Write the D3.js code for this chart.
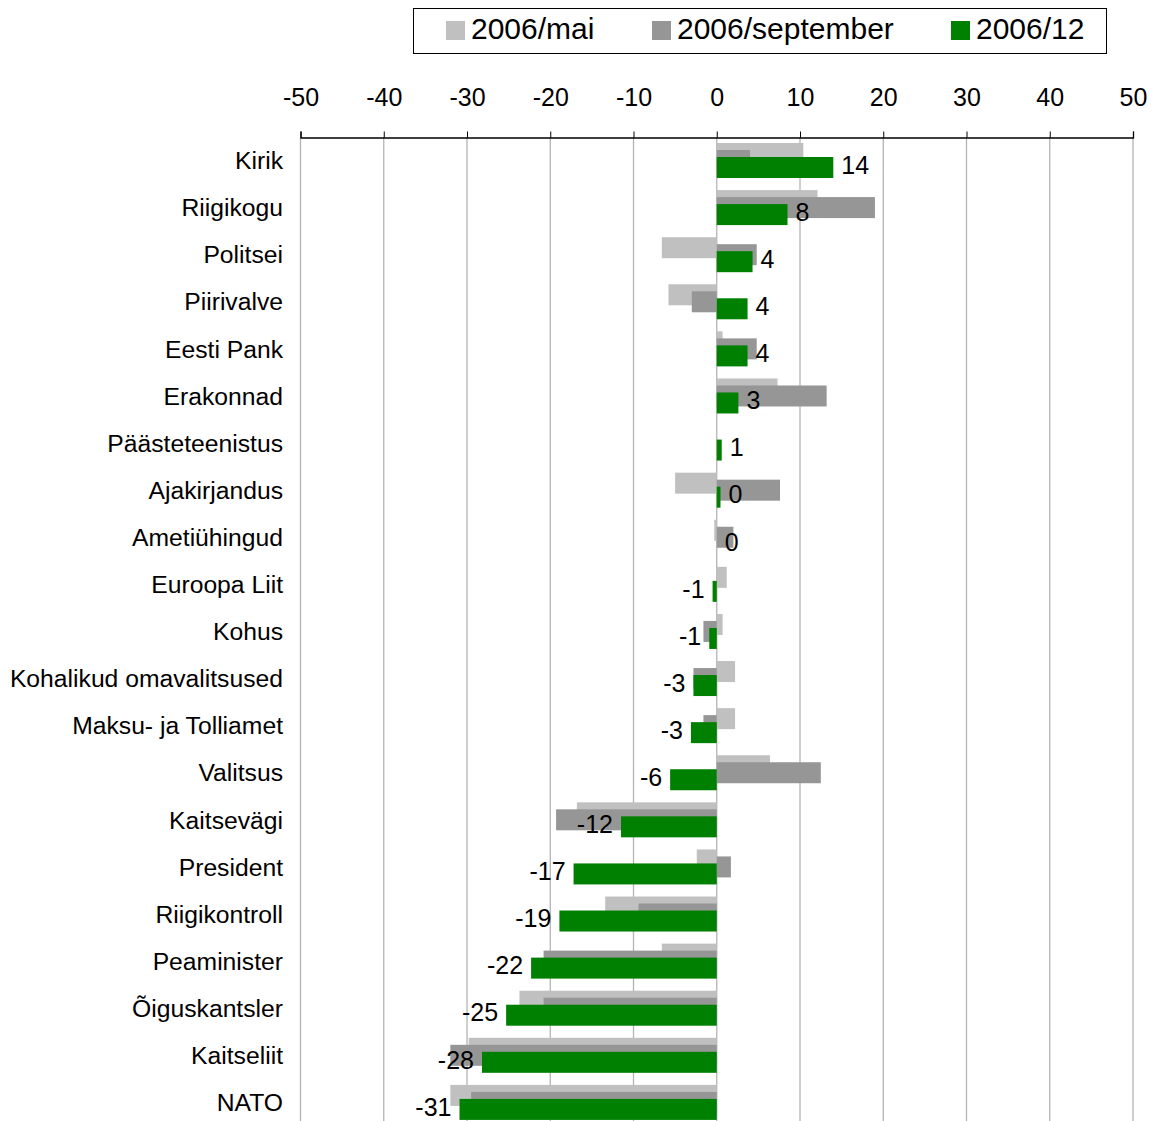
<!DOCTYPE html>
<html><head><meta charset="utf-8">
<script src="https://cdn.jsdelivr.net/npm/d3@7"></script>
<style>body{margin:0;background:#fff}svg{display:block}text{font-family:"Liberation Sans",Arial,sans-serif}</style>
</head><body>
<script>
const categories = ["Kirik","Riigikogu","Politsei","Piirivalve","Eesti Pank","Erakonnad","Päästeteenistus","Ajakirjandus","Ametiühingud","Euroopa Liit","Kohus","Kohalikud omavalitsused","Maksu- ja Tolliamet","Valitsus","Kaitsevägi","President","Riigikontroll","Peaminister","Õiguskantsler","Kaitseliit","NATO"];
const seriesNames = ["2006/mai","2006/september","2006/12"];
const mai = [10.4,12.1,-6.6,-5.8,0.7,7.3,0,-5.0,-0.3,1.2,0.7,2.2,2.2,6.4,-16.8,-2.4,-13.4,-6.6,-23.7,-29.8,-32.0];
const september = [4.0,19.0,4.8,-3.0,4.8,13.2,0,7.6,2.0,0,-1.6,-2.8,-1.6,12.5,-19.3,1.7,-9.4,-20.8,-20.8,-32.0,-29.5];
const dec = [14.0,8.5,4.3,3.7,3.7,2.6,0.6,0.45,0,-0.5,-0.9,-2.8,-3.1,-5.6,-11.5,-17.2,-18.9,-22.3,-25.3,-28.2,-30.9];
const decLabels = [14,8,4,4,4,3,1,0,0,-1,-1,-3,-3,-6,-12,-17,-19,-22,-25,-28,-31];
const tickValues = [-50,-40,-30,-20,-10,0,10,20,30,40,50];
const colors = ["#c0c0c0","#969696","#008000"];

const W=1152,H=1121;
const svg=d3.select("body").append("svg").attr("width",W).attr("height",H);
const x=d3.scaleLinear().domain([-50,50]).range([300.5,1133]);
const y=d3.scaleBand().domain(categories).range([137,1126]).padding(0);
const barH=21, offsets=[6,13,20];

// grid
svg.append("g").selectAll("line").data(tickValues).join("line")
  .attr("x1",d=>x(d)).attr("x2",d=>x(d)).attr("y1",137).attr("y2",H)
  .attr("stroke","#b4b4b4").attr("stroke-width",1.3);

// axis
const ax=svg.append("g").attr("transform","translate(0,137.5)")
  .call(d3.axisTop(x).tickValues(tickValues).tickSize(6).tickPadding(26).tickFormat(d=>String(d)));
ax.select(".domain").attr("stroke","#000").attr("stroke-width",1.3);
ax.selectAll(".tick line").attr("stroke","#000");
ax.selectAll(".tick text").attr("font-size",25).attr("fill","#000").attr("font-family","Liberation Sans, Arial, sans-serif");

const all=[mai,september,dec];
all.forEach((vals,s)=>{
  svg.append("g").selectAll("rect").data(vals).join("rect")
    .attr("x",d=>x(Math.min(0,d))).attr("width",d=>Math.abs(x(d)-x(0)))
    .attr("y",(d,i)=>y(categories[i])+offsets[s]).attr("height",barH)
    .attr("fill",colors[s]);
});

// category labels
svg.append("g").selectAll("text").data(categories).join("text")
  .attr("x",283).attr("y",d=>y(d)+y.bandwidth()/2).attr("dy","0.35em")
  .attr("text-anchor","end").attr("font-size",24.7).text(d=>d);

// value labels
svg.append("g").selectAll("text").data(dec).join("text")
  .attr("x",d=>d>=0? x(d)+8 : x(d)-8)
  .attr("y",(d,i)=>y(categories[i])+offsets[2]+barH/2-2.5).attr("dy","0.35em")
  .attr("text-anchor",d=>d>=0?"start":"end").attr("font-size",25)
  .text((d,i)=>decLabels[i]);

// legend
const lg=svg.append("g");
lg.append("rect").attr("x",413.5).attr("y",8.5).attr("width",693).attr("height",45).attr("fill","#fff").attr("stroke","#000").attr("stroke-width",1);
const lx=[446,652,951];
seriesNames.forEach((n,i)=>{
  lg.append("rect").attr("x",lx[i]).attr("y",21).attr("width",19).attr("height",19).attr("fill",colors[i]);
  lg.append("text").attr("x",lx[i]+25).attr("y",28.5).attr("dy","0.35em").attr("font-size",30).text(n);
});
</script>
</body></html>
